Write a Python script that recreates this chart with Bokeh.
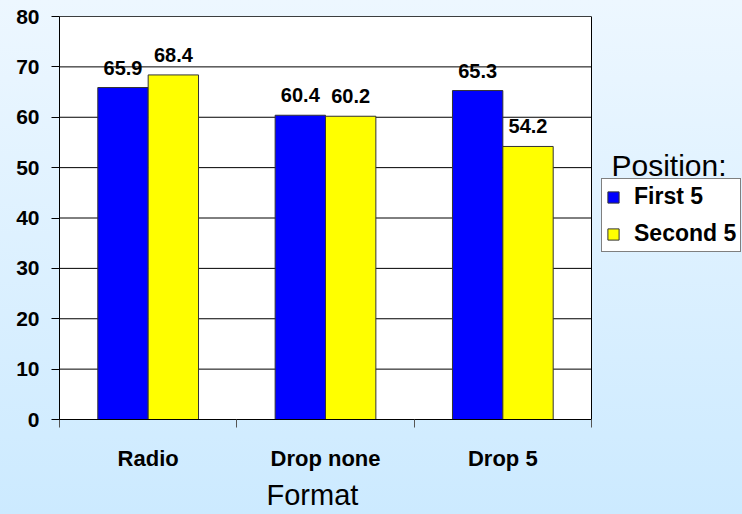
from bokeh.plotting import figure
from bokeh.models import ColumnDataSource, FixedTicker, Legend, LegendItem, Label, Range1d, Title
from bokeh.core.properties import value
from bokeh.embed import file_html
from bokeh.resources import INLINE
import numpy as np

categories = ["Radio", "Drop none", "Drop 5"]
first5 = [65.9, 60.4, 65.3]
second5 = [68.4, 60.2, 54.2]
series_names = ["First 5", "Second 5"]
legend_title = "Position:"
x_title = "Format"
y_ticks = [0, 10, 20, 30, 40, 50, 60, 70, 80]

FONT = "Liberation Sans"
BAR_W = 0.284
N = len(categories)

# layout in pixels
LEFT, PLOT_W, TOTAL_W = 59, 532, 742
FRAME_W = TOTAL_W - LEFT
x_end = N * FRAME_W / PLOT_W

centers = np.arange(N) + 0.5
src1 = ColumnDataSource(dict(x=centers - BAR_W / 2, top=first5,
                             lab=[f"{v:.1f}" for v in first5]))
src2 = ColumnDataSource(dict(x=centers + BAR_W / 2, top=second5,
                             lab=[f"{v:.1f}" for v in second5]))

p = figure(frame_width=FRAME_W, frame_height=403, output_backend="svg",
           toolbar_location=None, x_range=Range1d(0, x_end),
           y_range=Range1d(0, max(y_ticks)), min_border_left=LEFT, min_border_right=0,
           min_border_top=16, min_border_bottom=95)
p.border_fill_alpha = 0
p.background_fill_alpha = 0
p.styles = {"background": "linear-gradient(#EDF7FF, #CCEAFF)"}
p.outline_line_color = None

# white plot area
p.quad(left=[0], right=[N], bottom=[0], top=[max(y_ticks)], fill_color="white",
       line_color="black", line_width=1, level="image")
# horizontal gridlines inside the plot area
p.segment(x0=[0] * len(y_ticks), x1=[N] * len(y_ticks), y0=y_ticks, y1=y_ticks,
          line_color="black", line_width=1)

r1 = p.vbar(x="x", top="top", width=BAR_W, source=src1, fill_color="#0000FF",
            line_color="#333333", line_width=1)
r2 = p.vbar(x="x", top="top", width=BAR_W, source=src2, fill_color="#FFFF00",
            line_color="#333333", line_width=1)

for s in (src1, src2):
    p.text(x="x", y="top", text="lab", source=s, text_align="center",
           text_baseline="alphabetic", y_offset=-20, text_font=value(FONT),
           text_font_style="bold", text_font_size="20px", text_color="black")

# y axis
p.yaxis.ticker = FixedTicker(ticks=y_ticks)
p.yaxis.major_label_text_font = FONT
p.yaxis.major_label_text_font_style = "bold"
p.yaxis.major_label_text_font_size = "21px"
p.yaxis.major_label_text_color = "black"
p.yaxis.major_tick_in = 0
p.yaxis.major_tick_out = 8
p.yaxis.minor_tick_line_color = None
p.yaxis.axis_line_color = "black"
p.yaxis.major_tick_line_color = "black"
p.yaxis.major_label_standoff = 12

# x axis
p.xaxis.bounds = (0, N)
p.xaxis.ticker = FixedTicker(ticks=list(centers), minor_ticks=list(range(N + 1)))
p.xaxis.major_label_overrides = {float(c): n for c, n in zip(centers, categories)}
p.xaxis.major_tick_line_color = None
p.xaxis.minor_tick_line_color = "#555555"
p.xaxis.minor_tick_in = 0
p.xaxis.minor_tick_out = 8
p.xaxis.axis_line_color = "black"
p.xaxis.major_label_text_font = FONT
p.xaxis.major_label_text_font_style = "bold"
p.xaxis.major_label_text_font_size = "22px"
p.xaxis.major_label_text_color = "black"
p.xaxis.major_label_standoff = 18

p.xgrid.grid_line_color = None
p.ygrid.grid_line_color = None

xt = Title(text=x_title, align="left", offset=207, text_font=FONT,
           text_font_size="29px", text_font_style="normal", text_color="black",
           standoff=7)
p.add_layout(xt, "below")

legend = Legend(items=[LegendItem(label=series_names[0], renderers=[r1]),
                       LegendItem(label=series_names[1], renderers=[r2])],
                location=(542, 167), orientation="vertical")
legend.label_text_font = FONT
legend.label_text_font_style = "bold"
legend.label_text_font_size = "23px"
legend.label_text_color = "black"
legend.glyph_width = 14
legend.glyph_height = 14
legend.label_height = 26
legend.label_standoff = 14
legend.spacing = 10
legend.padding = 4
legend.margin = 0
legend.border_line_color = "black"
legend.border_line_width = 1
legend.background_fill_color = "white"
legend.background_fill_alpha = 1
p.add_layout(legend, "center")

title = Label(x=N, y=50.4, x_offset=20, text=legend_title,
              text_font=FONT, text_font_size="30px", text_baseline="alphabetic",
              text_color="black")
p.add_layout(title)

open("out.html", "w").write(file_html(p, INLINE))
